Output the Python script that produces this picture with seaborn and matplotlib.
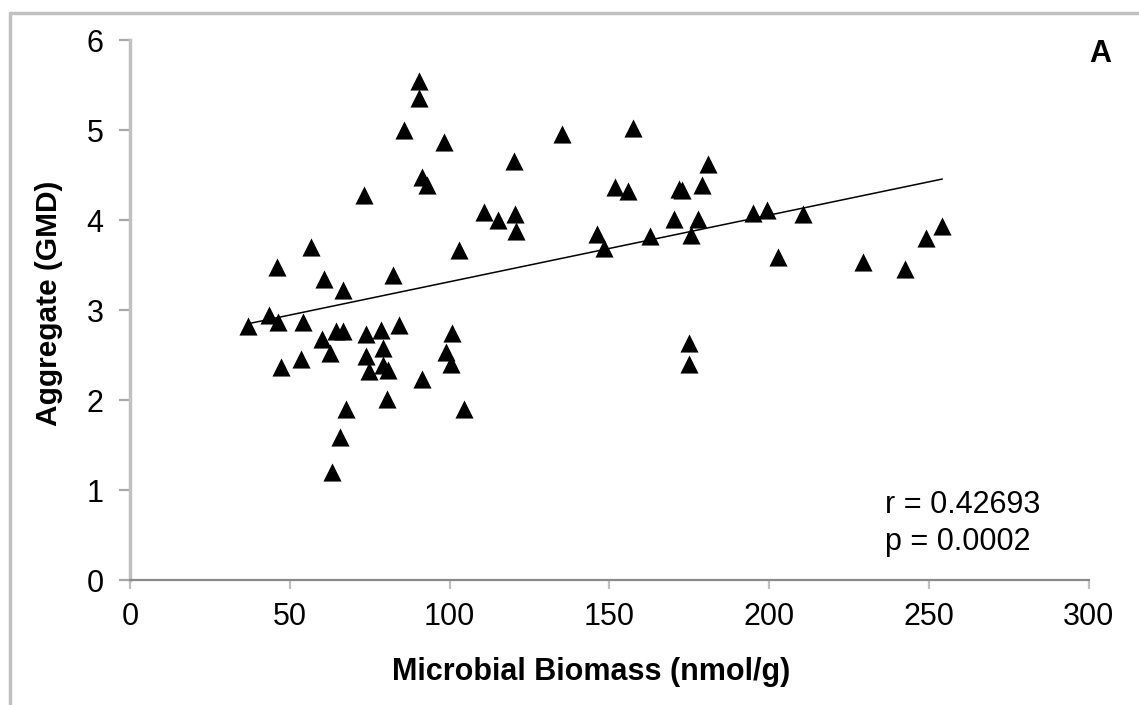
import matplotlib
matplotlib.use("Agg")
import matplotlib.pyplot as plt
from matplotlib.lines import Line2D
import seaborn as sns
import pandas as pd

# ---- data ----
biomass = [90.45, 90.45, 85.85, 98.37, 91.39, 92.86, 73.24, 110.89, 115.09, 103.07,
           56.56, 45.92, 60.72, 82.22, 66.76, 43.60, 36.84, 46.23, 54.05, 60.09,
           64.38, 66.76, 62.60, 53.52, 47.26, 73.77, 78.47, 84.29, 73.77, 79.09,
           74.80, 79.09, 80.85, 91.30, 100.69, 98.81, 100.38, 80.53, 67.51, 104.63,
           65.73, 63.13, 135.12, 157.53, 120.28, 181.00, 151.80, 155.96, 171.92, 172.77,
           178.94, 120.50, 120.81, 146.07, 148.45, 162.75, 170.27, 177.87, 175.59, 195.09,
           199.47, 210.55, 202.82, 174.96, 174.96, 229.51, 242.57, 249.05, 254.24]
aggregate = [5.55, 5.36, 5.00, 4.87, 4.48, 4.39, 4.28, 4.09, 4.00, 3.67,
             3.70, 3.48, 3.34, 3.39, 3.22, 2.95, 2.82, 2.87, 2.87, 2.68,
             2.77, 2.77, 2.52, 2.46, 2.37, 2.73, 2.78, 2.83, 2.49, 2.58,
             2.32, 2.39, 2.33, 2.23, 2.74, 2.53, 2.40, 2.01, 1.90, 1.90,
             1.59, 1.20, 4.96, 5.02, 4.65, 4.62, 4.37, 4.32, 4.35, 4.33,
             4.39, 4.07, 3.88, 3.85, 3.69, 3.82, 4.01, 4.01, 3.83, 4.08,
             4.11, 4.07, 3.59, 2.63, 2.40, 3.53, 3.46, 3.80, 3.93]

x_ticks = [0, 50, 100, 150, 200, 250, 300]
y_ticks = [0, 1, 2, 3, 4, 5, 6]
x_label = "Microbial Biomass (nmol/g)"
y_label = "Aggregate (GMD)"
stat_r = "r = 0.42693"
stat_p = "p = 0.0002"
panel = "A"

df = pd.DataFrame({"biomass": biomass, "aggregate": aggregate})

sns.set_theme(style="white")
plt.rcParams["font.family"] = ["Liberation Sans", "DejaVu Sans"]
plt.rcParams["text.color"] = "black"
plt.rcParams["axes.labelcolor"] = "black"
plt.rcParams["xtick.color"] = "black"
plt.rcParams["ytick.color"] = "black"

W, H = 1139, 705
fig = plt.figure(figsize=(W / 100, H / 100), dpi=100)
fig.patch.set_facecolor("white")
ax = fig.add_axes([130 / W, 1 - 580 / H, 958.5 / W, 540 / H])

sns.regplot(data=df, x="biomass", y="aggregate", ax=ax, ci=None, marker="^",
            color="black",
            scatter_kws=dict(s=170, linewidths=0, alpha=1),
            line_kws=dict(color="black", lw=1.1))

ax.set_xlim(0, 300)
ax.set_ylim(0, 6)
ax.set_xticks(x_ticks)
ax.set_yticks(y_ticks)
ax.set_xticklabels([str(t) for t in x_ticks])
ax.set_yticklabels([str(t) for t in y_ticks])

for s in ("top", "right"):
    ax.spines[s].set_visible(False)
ax.spines["left"].set_color("#c0c0c0")
ax.spines["left"].set_linewidth(2.5)
ax.spines["bottom"].set_color("#8a8a8a")
ax.spines["bottom"].set_linewidth(1.6)

ax.tick_params(axis="y", direction="out", length=8, width=1.6, color="#a8a8a8",
               labelsize=22, pad=11, labelcolor="black", left=True)
ax.tick_params(axis="x", direction="out", length=6.5, width=1.6, color="#c0c0c0",
               labelsize=22, pad=9, labelcolor="black", bottom=True)

ax.set_xlabel(x_label, fontsize=22, fontweight="bold", color="black")
ax.set_ylabel(y_label, fontsize=21.5, fontweight="bold", color="black")
ax.xaxis.label.set_va("center")
ax.xaxis.set_label_coords(0.481, -0.170)
ax.yaxis.label.set_va("center")
ax.yaxis.set_label_coords(-0.0845, 0.512)

ax.text(0.7877, 0.124, stat_r, transform=ax.transAxes, fontsize=22,
        ha="left", va="baseline", color="black")
ax.text(0.7877, 0.0556, stat_p, transform=ax.transAxes, fontsize=22,
        ha="left", va="baseline", color="black")
ax.text(1.012, 0.959, panel, transform=ax.transAxes, fontsize=22,
        fontweight="bold", ha="center", va="baseline", color="black")

# outer frame (left and top edges visible in the reference)
fig.add_artist(Line2D([9.5 / W, 9.5 / W], [0, 1 - 12.5 / H], transform=fig.transFigure,
                      color="#c0c0c0", lw=2.5))
fig.add_artist(Line2D([9.5 / W, 1], [1 - 12.5 / H, 1 - 12.5 / H], transform=fig.transFigure,
                      color="#c0c0c0", lw=2.5))

fig.savefig("out.png", dpi=100, facecolor="white")
